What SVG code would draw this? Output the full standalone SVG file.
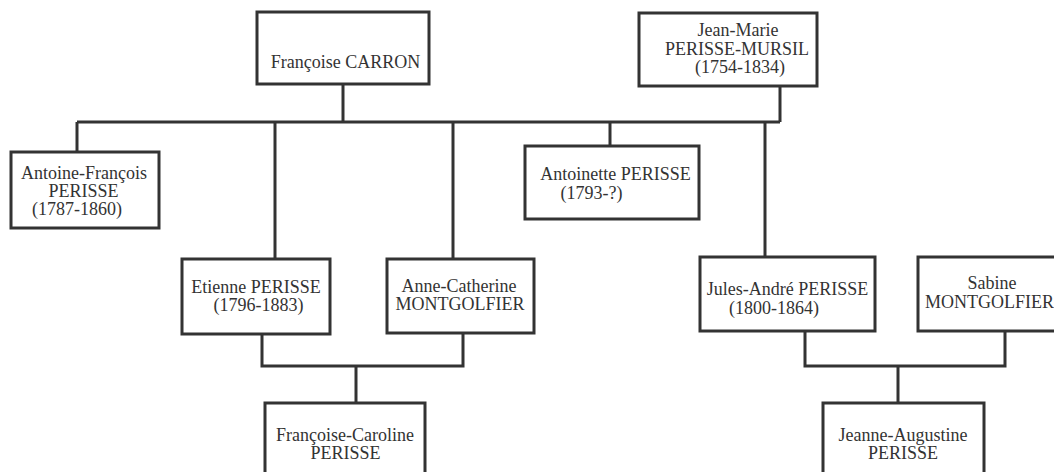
<svg xmlns="http://www.w3.org/2000/svg" width="1054" height="472" viewBox="0 0 1054 472">
<style>
.box{fill:#fff;stroke:#333;stroke-width:3}
.lbl{font-family:"Liberation Serif","Times New Roman",serif;font-size:18px;fill:#333;text-anchor:middle}
.st{text-anchor:start}
.con{fill:none;stroke:#333;stroke-width:3}
</style>
<rect width="1054" height="472" fill="#fff"/>
<g id="connectors" class="con">
<path d="M343,84 V122"/>
<path d="M780,86 V122"/>
<path d="M77,122 H780"/>
<path d="M77,122 V152"/>
<path d="M275,122 V259"/>
<path d="M453,122 V259"/>
<path d="M610,122 V146"/>
<path d="M765,122 V257"/>
<path d="M262,334 V366 H463 V333"/>
<path d="M356,366 V403"/>
<path d="M805,331 V366 H1005 V331"/>
<path d="M898,366 V403"/>
</g>
<g id="francoise_carron">
<rect class="box" x="257" y="12" width="172" height="72"/>
<text class="lbl" x="345.5" y="68">Françoise CARRON</text>
</g>
<g id="jean_marie">
<rect class="box" x="639" y="13" width="178" height="73"/>
<text class="lbl" x="738" y="36">Jean-Marie</text>
<text class="lbl" x="737" y="54.5">PERISSE-MURSIL</text>
<text class="lbl" x="740" y="73">(1754-1834)</text>
</g>
<g id="antoine_francois">
<rect class="box" x="11" y="152" width="148" height="76"/>
<text class="lbl" x="84" y="179">Antoine-François</text>
<text class="lbl" x="83.5" y="197">PERISSE</text>
<text class="lbl" x="77" y="215">(1787-1860)</text>
</g>
<g id="antoinette">
<rect class="box" x="525" y="146" width="174" height="73"/>
<text class="lbl" x="615.5" y="180">Antoinette PERISSE</text>
<text class="lbl" x="591.5" y="199">(1793-?)</text>
</g>
<g id="etienne">
<rect class="box" x="182" y="259" width="148" height="75"/>
<text class="lbl" x="256" y="293">Etienne PERISSE</text>
<text class="lbl" x="258.5" y="311">(1796-1883)</text>
</g>
<g id="anne_catherine">
<rect class="box" x="387" y="259" width="147" height="74"/>
<text class="lbl" x="459" y="291.5">Anne-Catherine</text>
<text class="lbl" x="460" y="309.5">MONTGOLFIER</text>
</g>
<g id="jules_andre">
<rect class="box" x="700" y="257" width="175" height="74"/>
<text class="lbl" x="787.5" y="295">Jules-André PERISSE</text>
<text class="lbl" x="774" y="313.5">(1800-1864)</text>
</g>
<g id="sabine">
<rect class="box" x="918" y="257" width="144" height="74"/>
<text class="lbl" x="992" y="289">Sabine</text>
<text class="lbl st" x="925" y="308">MONTGOLFIER</text>
</g>
<g id="francoise_caroline">
<rect class="box" x="265" y="403" width="160" height="80"/>
<text class="lbl" x="345" y="441">Françoise-Caroline</text>
<text class="lbl" x="345.5" y="459">PERISSE</text>
</g>
<g id="jeanne_augustine">
<rect class="box" x="823" y="403" width="161" height="80"/>
<text class="lbl" x="903" y="441">Jeanne-Augustine</text>
<text class="lbl" x="903" y="459">PERISSE</text>
</g>
</svg>
